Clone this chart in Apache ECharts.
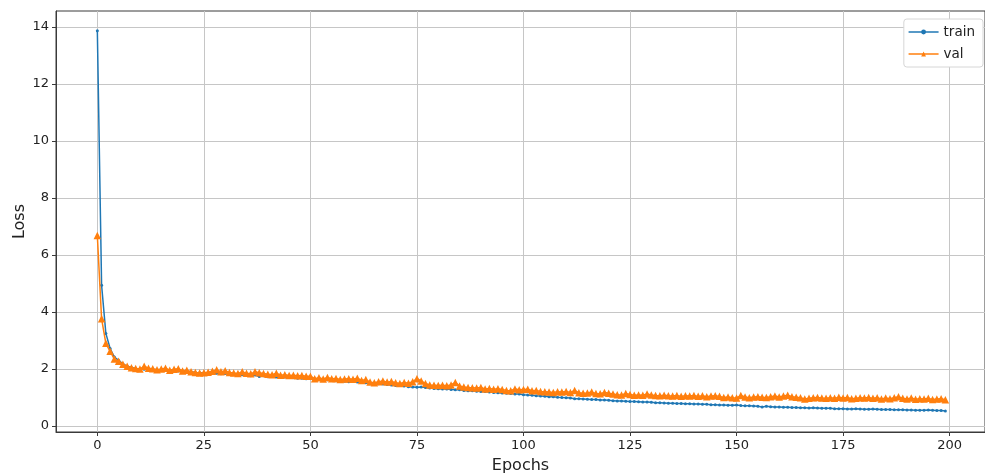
<!DOCTYPE html>
<html>
<head>
<meta charset="utf-8">
<script src="https://cdn.jsdelivr.net/npm/echarts@6/dist/echarts.min.js"></script>
<style>
  html, body { margin: 0; padding: 0; background: #fff; }
  #chart { width: 985px; height: 475px; }
</style>
</head>
<body>
<div id="chart"></div>
<script>
  // loss per epoch
  var trainLoss = [
    13.87, 4.94, 3.25, 2.72, 2.42, 2.30, 2.18, 2.10, 2.05, 2.02,
    2.00, 1.99, 1.98, 1.97, 1.98, 1.96, 1.95, 1.95, 1.94, 1.93,
    1.92, 1.91, 1.90, 1.88, 1.87, 1.86, 1.85, 1.84, 1.85, 1.83,
    1.84, 1.82, 1.81, 1.80, 1.80, 1.78, 1.76, 1.79, 1.74, 1.76,
    1.73, 1.75, 1.72, 1.70, 1.72, 1.70, 1.69, 1.68, 1.68, 1.66,
    1.67, 1.65, 1.64, 1.63, 1.62, 1.60, 1.59, 1.57, 1.57, 1.55,
    1.56, 1.54, 1.53, 1.52, 1.50, 1.49, 1.48, 1.47, 1.46, 1.44,
    1.42, 1.42, 1.40, 1.38, 1.37, 1.36, 1.37, 1.35, 1.33, 1.32,
    1.31, 1.30, 1.30, 1.28, 1.27, 1.27, 1.25, 1.24, 1.24, 1.22,
    1.21, 1.21, 1.19, 1.18, 1.17, 1.16, 1.15, 1.14, 1.12, 1.12,
    1.10, 1.09, 1.08, 1.06, 1.05, 1.04, 1.03, 1.03, 1.01, 1.00,
    0.99, 0.98, 0.96, 0.96, 0.95, 0.94, 0.93, 0.93, 0.91, 0.91,
    0.90, 0.89, 0.88, 0.88, 0.87, 0.86, 0.86, 0.85, 0.84, 0.84,
    0.83, 0.82, 0.82, 0.81, 0.80, 0.80, 0.79, 0.79, 0.78, 0.78,
    0.77, 0.77, 0.76, 0.76, 0.75, 0.75, 0.74, 0.74, 0.73, 0.73,
    0.74, 0.72, 0.71, 0.71, 0.70, 0.69, 0.67, 0.69, 0.68, 0.67,
    0.67, 0.66, 0.66, 0.65, 0.65, 0.64, 0.64, 0.63, 0.64, 0.63,
    0.62, 0.62, 0.62, 0.61, 0.61, 0.61, 0.60, 0.60, 0.61, 0.60,
    0.59, 0.59, 0.60, 0.59, 0.58, 0.58, 0.58, 0.57, 0.57, 0.57,
    0.56, 0.56, 0.55, 0.55, 0.55, 0.56, 0.55, 0.54, 0.54, 0.53
  ]
  var valLoss = [
    6.68, 3.76, 2.90, 2.62, 2.35, 2.27, 2.17, 2.10, 2.04, 2.02,
    2.00, 2.10, 2.03, 2.01, 1.97, 2.00, 2.03, 1.96, 1.99, 2.01,
    1.93, 1.96, 1.90, 1.88, 1.86, 1.87, 1.89, 1.92, 1.97, 1.90,
    1.94, 1.88, 1.86, 1.84, 1.90, 1.85, 1.83, 1.90, 1.87, 1.84,
    1.82, 1.80, 1.85, 1.78, 1.80, 1.77, 1.78, 1.76, 1.77, 1.75,
    1.75, 1.66, 1.69, 1.65, 1.70, 1.66, 1.67, 1.63, 1.65, 1.66,
    1.64, 1.68, 1.60, 1.63, 1.54, 1.52, 1.55, 1.58, 1.54, 1.56,
    1.52, 1.49, 1.53, 1.50, 1.55, 1.66, 1.58, 1.49, 1.44, 1.43,
    1.42, 1.43, 1.41, 1.44, 1.53, 1.40, 1.37, 1.35, 1.34, 1.33,
    1.35, 1.30, 1.32, 1.29, 1.31, 1.28, 1.25, 1.24, 1.30, 1.27,
    1.28, 1.29, 1.24, 1.25, 1.21, 1.20, 1.19, 1.18, 1.20, 1.19,
    1.21, 1.18, 1.25, 1.17, 1.15, 1.16, 1.19, 1.14, 1.13, 1.18,
    1.15, 1.12, 1.10, 1.09, 1.14, 1.11, 1.08, 1.09, 1.08, 1.12,
    1.09, 1.07, 1.06, 1.08, 1.06, 1.05, 1.07, 1.04, 1.06, 1.05,
    1.07, 1.04, 1.06, 1.03, 1.05, 1.06, 1.04, 1.00, 1.02, 0.99,
    0.98, 1.07, 1.02, 0.99, 1.02, 1.03, 1.01, 1.00, 1.03, 1.05,
    1.02, 1.05, 1.08, 1.03, 1.01, 0.99, 0.95, 0.97, 0.99, 1.00,
    0.98, 0.97, 0.99, 0.97, 1.01, 0.98, 1.00, 0.96, 0.97, 0.99,
    0.98, 1.00, 0.97, 0.99, 0.95, 0.98, 0.96, 0.99, 1.03, 0.97,
    0.95, 0.98, 0.94, 0.96, 0.95, 0.97, 0.93, 0.95, 0.96, 0.92
  ]
  var xTicks = [0, 25, 50, 75, 100, 125, 150, 175, 200]
  var yTicks = [0, 2, 4, 6, 8, 10, 12, 14]

  function pairs (arr) {
    return arr.map(function (v, i) { return [i, v] })
  }

  var font = 'DejaVu Sans, Liberation Sans, sans-serif'
  var myChart = echarts.init(document.getElementById('chart'))
  myChart.setOption({
    animation: false,
    backgroundColor: '#fff',
    grid: {
      left: 56,
      right: 0,
      top: 11,
      height: 421,
      outerBoundsMode: 'none',
      containLabel: false,
      show: true,
      borderColor: '#3a3a3a',
      borderWidth: 1
    },
    legend: {
      orient: 'vertical',
      right: 2,
      top: 19,
      padding: [6, 8, 6, 4],
      itemGap: 8,
      itemWidth: 30,
      itemHeight: 6,
      backgroundColor: '#fff',
      borderColor: '#d6d6d6',
      borderWidth: 1,
      borderRadius: 3,
      lineStyle: { width: 1.5 },
      textStyle: { fontFamily: font, fontSize: 13.5, color: '#222' },
      data: ['train', 'val']
    },
    xAxis: {
      type: 'value',
      min: -9.7,
      max: 208.3,
      name: 'Epochs',
      nameLocation: 'middle',
      nameGap: 26,
      nameMoveOverlap: false,
      nameTextStyle: { fontFamily: font, fontSize: 16, color: '#222' },
      axisLine: { onZero: false, lineStyle: { color: '#3a3a3a' } },
      axisTick: { customValues: xTicks, length: 4, lineStyle: { color: '#3a3a3a' } },
      axisLabel: { customValues: xTicks, margin: 7, fontFamily: font, fontSize: 13, color: '#222' },
      splitLine: { show: true, lineStyle: { color: '#c6c6c6', width: 1 } }
    },
    yAxis: {
      type: 'value',
      min: -0.21,
      max: 14.56,
      name: 'Loss',
      nameLocation: 'middle',
      nameGap: 28,
      nameMoveOverlap: false,
      nameTextStyle: { fontFamily: font, fontSize: 16, color: '#222' },
      axisLine: { show: true, onZero: false, lineStyle: { color: '#3a3a3a' } },
      axisTick: { show: true, customValues: yTicks, length: 4, lineStyle: { color: '#3a3a3a' } },
      axisLabel: { customValues: yTicks, margin: 7, fontFamily: font, fontSize: 13, color: '#222' },
      splitLine: { show: true, lineStyle: { color: '#c6c6c6', width: 1 } }
    },
    series: [
      {
        name: 'train',
        type: 'line',
        data: pairs(trainLoss),
        symbol: 'circle',
        symbolSize: 3,
        showAllSymbol: true,
        color: '#1f77b4',
        lineStyle: { width: 1.5 },
        z: 3
      },
      {
        name: 'val',
        type: 'line',
        data: pairs(valLoss),
        symbol: 'triangle',
        symbolSize: 7.5,
        showAllSymbol: true,
        color: '#ff7f0e',
        lineStyle: { width: 1.5 },
        z: 4
      }
    ]
  })
</script>
</body>
</html>
